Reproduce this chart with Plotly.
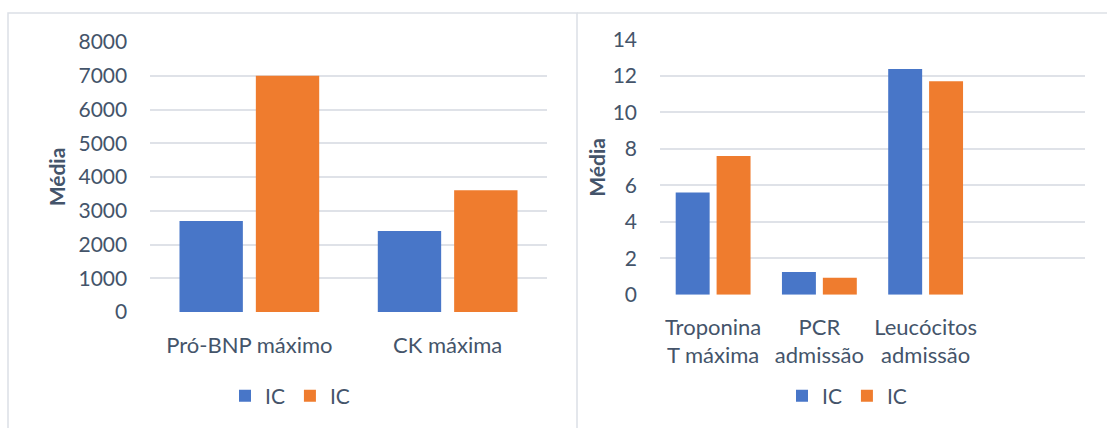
import plotly.graph_objects as go

# Left chart: maximum Pro-BNP and CK
left_categories = ["Pró-BNP máximo", "CK máxima"]
left_series_a = [2700, 2400]
left_series_b = [7000, 3610]

# Right chart: troponin, CRP and leukocytes (last slot intentionally empty)
right_categories = ["Troponina<br>T máxima", "PCR<br>admissão", "Leucócitos<br>admissão", " "]
right_series_a = [5.6, 1.25, 12.37]
right_series_b = [7.6, 0.93, 11.7]

series_names = ["IC", "IC"]
left_ticks = [0, 1000, 2000, 3000, 4000, 5000, 6000, 7000, 8000]
right_ticks = [0, 2, 4, 6, 8, 10, 12, 14]

W, H = 1107, 428
BLUE = "#4876C8"
ORANGE = "#EF7C2E"
TEXT = "#44546A"
GRID = "#DFE2E8"
FRAME = "#DCE0E6"
FONT = "Lato"


def px_x(v):
    return v / W


def px_y(v):
    return 1 - v / H


fig = go.Figure()

fig.add_trace(go.Bar(x=left_categories, y=left_series_a, name=series_names[0],
                     marker=dict(color=BLUE, line_width=0), xaxis="x", yaxis="y", legend="legend"))
fig.add_trace(go.Bar(x=left_categories, y=left_series_b, name=series_names[1],
                     marker=dict(color=ORANGE, line_width=0), xaxis="x", yaxis="y", legend="legend"))
fig.add_trace(go.Bar(x=right_categories[:3], y=right_series_a, name=series_names[0],
                     marker=dict(color=BLUE, line_width=0), xaxis="x2", yaxis="y2", legend="legend2"))
fig.add_trace(go.Bar(x=right_categories[:3], y=right_series_b, name=series_names[1],
                     marker=dict(color=ORANGE, line_width=0), xaxis="x2", yaxis="y2", legend="legend2"))

axis_font = dict(family=FONT, size=21, color=TEXT)
cat_font = dict(family=FONT, size=22, color=TEXT)

fig.update_layout(
    width=W, height=H,
    margin=dict(l=0, r=0, t=0, b=0, pad=0, autoexpand=False),
    paper_bgcolor="white", plot_bgcolor="white",
    font=axis_font,
    barmode="group", bargap=0.23, bargroupgap=0.17,
    xaxis=dict(domain=[px_x(150.2), px_x(546.8)], anchor="y", type="category",
               categoryorder="array", categoryarray=left_categories,
               showgrid=False, showline=False, zeroline=False, ticks="",
               ticklabelstandoff=18, tickfont=cat_font, automargin=False),
    yaxis=dict(domain=[px_y(312), px_y(42)], anchor="x", range=[0, 8000],
               tickvals=left_ticks, showgrid=True, gridcolor=GRID, gridwidth=1.8,
               zeroline=False, showline=False, ticks="", ticklabelstandoff=22,
               tickfont=axis_font, automargin=False),
    xaxis2=dict(domain=[px_x(660), px_x(1085)], anchor="y2", type="category",
                categoryorder="array", categoryarray=right_categories,
                range=[-0.5, 3.5],
                showgrid=False, showline=False, zeroline=False, ticks="",
                ticklabelstandoff=17, tickfont=cat_font, automargin=False),
    yaxis2=dict(domain=[px_y(294.7), px_y(39.3)], anchor="x2", range=[0, 14],
                tickvals=right_ticks, showgrid=True, gridcolor=GRID, gridwidth=1.8,
                zeroline=False, showline=False, ticks="", ticklabelstandoff=22,
                tickfont=axis_font, automargin=False),
    legend=dict(orientation="h", x=px_x(290), xanchor="center", y=px_y(396), yanchor="middle",
                font=axis_font, bgcolor="rgba(0,0,0,0)", itemclick=False),
    legend2=dict(orientation="h", x=px_x(847), xanchor="center", y=px_y(396), yanchor="middle",
                 font=axis_font, bgcolor="rgba(0,0,0,0)", itemclick=False),
    showlegend=True,
)

# Axis titles
for xc, yc in [(57.3, 177), (595.7, 167)]:
    fig.add_annotation(text="<b>Média</b>", x=px_x(xc), y=px_y(yc), xref="paper", yref="paper",
                       textangle=-90, showarrow=False, xanchor="center", yanchor="middle",
                       font=dict(family=FONT, size=21, color=TEXT))

# Chart frames (open at the bottom edge of the view)
fig.add_shape(type="path", xref="paper", yref="paper",
              path=f"M {px_x(8)},-0.3 L {px_x(8)},{px_y(13)} L {px_x(577)},{px_y(13)} L {px_x(577)},-0.3",
              line=dict(color=FRAME, width=1.5), layer="below")
fig.add_shape(type="line", xref="paper", yref="paper", x0=px_x(577), x1=1.05,
              y0=px_y(13), y1=px_y(13), line=dict(color=FRAME, width=1.5), layer="below")

fig.write_html("out.html")
